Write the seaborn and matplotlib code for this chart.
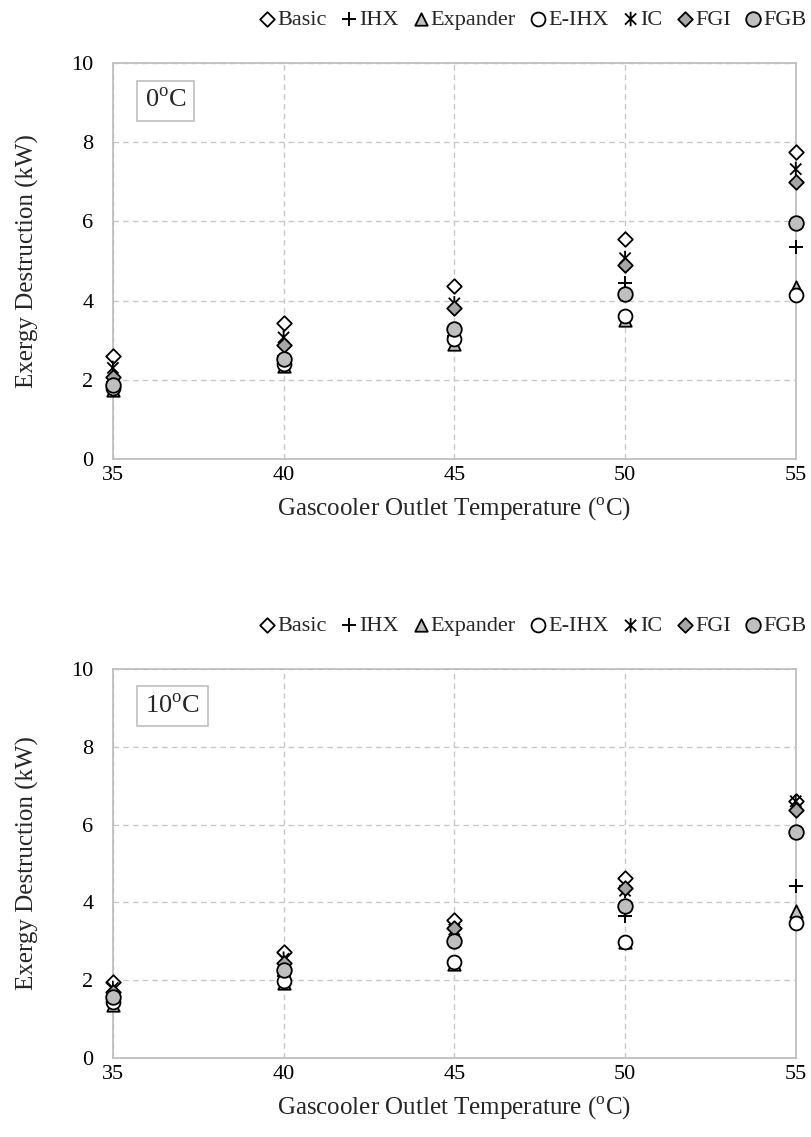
import numpy as np
import pandas as pd
import matplotlib
matplotlib.use("Agg")
import matplotlib.pyplot as plt
from matplotlib.path import Path
import seaborn as sns

temps = [35, 40, 45, 50, 55]
series = ["Basic", "IHX", "Expander", "E-IHX", "IC", "FGI", "FGB"]

# 0 degC evaporating
basic0 = [2.60, 3.43, 4.37, 5.55, 7.74]
ihx0 = [1.95, 2.60, 3.10, 4.44, 5.35]
expander0 = [1.75, 2.35, 2.90, 3.50, 4.35]
eihx0 = [1.80, 2.40, 3.03, 3.60, 4.14]
ic0 = [2.30, 3.07, 3.93, 5.07, 7.32]
fgi0 = [2.07, 2.88, 3.81, 4.90, 6.99]
fgb0 = [1.87, 2.53, 3.28, 4.17, 5.97]

# 10 degC evaporating
basic10 = [1.95, 2.72, 3.55, 4.62, 6.60]
ihx10 = [1.60, 2.10, 2.45, 3.65, 4.42]
expander10 = [1.35, 1.92, 2.42, 2.98, 3.78]
eihx10 = [1.45, 1.97, 2.48, 2.98, 3.47]
ic10 = [1.80, 2.55, 3.30, 4.30, 6.60]
fgi10 = [1.70, 2.45, 3.35, 4.36, 6.37]
fgb10 = [1.58, 2.27, 3.02, 3.92, 5.82]

panels = [
    ("0$^{\\mathrm{o}}$C", [basic0, ihx0, expander0, eihx0, ic0, fgi0, fgb0]),
    ("10$^{\\mathrm{o}}$C", [basic10, ihx10, expander10, eihx10, ic10, fgi10, fgb10]),
]

sns.set_theme(style="white")
plt.rcParams["font.family"] = ["Liberation Serif", "DejaVu Serif"]
plt.rcParams["mathtext.fontset"] = "custom"
plt.rcParams["mathtext.rm"] = "Liberation Serif"

star = Path([(-1, -1), (1, 1), (-1, 1), (1, -1), (0, -1.3), (0, 1.3)],
            [Path.MOVETO, Path.LINETO, Path.MOVETO, Path.LINETO, Path.MOVETO, Path.LINETO])

styles = {
    "Basic": dict(marker="D", s=55, facecolor="white", edgecolor="black", linewidth=1.3),
    "IHX": dict(marker="+", s=100, color="black", linewidth=1.4),
    "Expander": dict(marker="^", s=80, facecolor="#bfbfbf", edgecolor="black", linewidth=1.3),
    "E-IHX": dict(marker="o", s=100, facecolor="white", edgecolor="black", linewidth=1.3),
    "IC": dict(marker=star, s=110, facecolor="none", edgecolor="black", linewidth=1.3),
    "FGI": dict(marker="D", s=55, facecolor="#a6a6a6", edgecolor="black", linewidth=1.3),
    "FGB": dict(marker="o", s=110, facecolor="#bfbfbf", edgecolor="black", linewidth=1.3),
}

fig = plt.figure(figsize=(8.12, 11.37), dpi=100)
axes_pos = [
    [0.139, 0.5963, 0.841, 0.3483],
    [0.139, 0.0695, 0.841, 0.3421],
]

for (label, values), pos in zip(panels, axes_pos):
    ax = fig.add_axes(pos)
    df = pd.DataFrame({"T": np.tile(temps, len(series)),
                       "E": np.concatenate(values),
                       "Case": np.repeat(series, len(temps))})
    for i, name in enumerate(series):
        sub = df[df["Case"] == name]
        sns.scatterplot(data=sub, x="T", y="E", ax=ax, label=name,
                        zorder=3 + i, clip_on=False, **styles[name])
    ax.set_xlim(35, 55)
    ax.set_ylim(0, 10)
    ax.set_xticks(temps)
    ax.set_yticks([0, 2, 4, 6, 8, 10])
    ax.grid(True, color="#c8c8c8", linestyle=(0, (4, 3)), linewidth=1.0)
    for sp in ax.spines.values():
        sp.set_color("#bfbfbf")
        sp.set_linewidth(1.3)
    ax.tick_params(axis="both", length=0, labelsize=16, colors="black")
    ax.tick_params(axis="x", pad=5)
    ax.tick_params(axis="y", pad=14)
    ax.set_xlabel("Gascooler Outlet Temperature ($^{\\mathrm{o}}$C)", fontsize=18, labelpad=8)
    ax.set_ylabel("Exergy Destruction (kW)", fontsize=18)
    ax.yaxis.set_label_coords(-0.108, 0.5)
    ax.text(0.047, 0.905, label, transform=ax.transAxes, fontsize=19,
            va="center", ha="left",
            bbox=dict(boxstyle="square,pad=0.3", facecolor="white", edgecolor="#bfbfbf", linewidth=1.2))
    ax.legend(loc="lower right", bbox_to_anchor=(1.035, 1.05), ncol=7, frameon=False,
              fontsize=16, handletextpad=0.05, columnspacing=0.6, handlelength=0.8,
              borderaxespad=0.2, scatterpoints=1)

fig.savefig("out.png", dpi=100)
